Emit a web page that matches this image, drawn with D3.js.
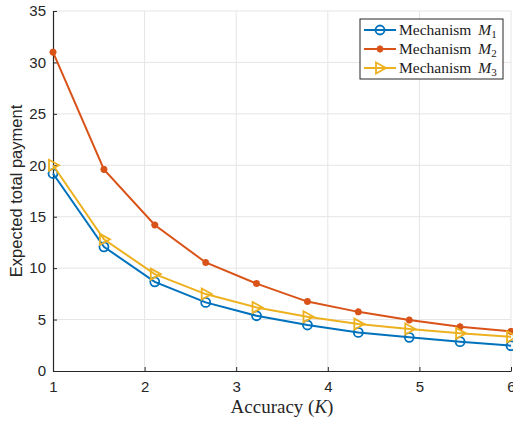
<!DOCTYPE html>
<html>
<head>
<meta charset="utf-8">
<script src="https://cdn.jsdelivr.net/npm/d3@7"></script>
<style>
  body { margin: 0; background: #fff; }
  svg { display: block; }
  .tick text { font-family: "Liberation Sans", Arial, sans-serif; font-size: 15px; fill: #262626; }
</style>
</head>
<body>
<svg id="chart" width="513" height="422"></svg>
<script>
// accuracy values on the x axis
var accuracy = [1, 1.556, 2.111, 2.667, 3.222, 3.778, 4.333, 4.889, 5.444, 6];
// expected total payment for each mechanism
var mech1 = [19.2, 12.07, 8.67, 6.67, 5.37, 4.47, 3.75, 3.27, 2.85, 2.46];
var mech2 = [31.0, 19.6, 14.2, 10.55, 8.5, 6.75, 5.75, 4.95, 4.3, 3.85];
var mech3 = [20.0, 12.8, 9.42, 7.48, 6.18, 5.27, 4.56, 4.08, 3.66, 3.33];
var xTicks = [1, 2, 3, 4, 5, 6];
var yTicks = [0, 5, 10, 15, 20, 25, 30, 35];

var series = [
    {name: "1", values: mech1, color: "#0072BD", marker: "circle"},
    {name: "2", values: mech2, color: "#D95319", marker: "star"},
    {name: "3", values: mech3, color: "#EDB120", marker: "triangle"}
];

var svg = d3.select("#chart"),
    margin = {top: 11, right: 2, bottom: 51, left: 53},
    width = +svg.attr("width") - margin.left - margin.right,
    height = +svg.attr("height") - margin.top - margin.bottom,
    g = svg.append("g").attr("transform", "translate(" + margin.left + "," + margin.top + ")");

var x = d3.scaleLinear().domain([1, 6]).range([0, width]);
var y = d3.scaleLinear().domain([0, 35]).range([height, 0]);

// grid
g.append("g").selectAll("line").data(xTicks.slice(1)).enter().append("line")
    .attr("x1", function(d) { return x(d); }).attr("x2", function(d) { return x(d); })
    .attr("y1", 0).attr("y2", height)
    .attr("stroke", "#e5e5e5").attr("stroke-width", 1);
g.append("g").selectAll("line").data(yTicks.slice(1)).enter().append("line")
    .attr("y1", function(d) { return y(d); }).attr("y2", function(d) { return y(d); })
    .attr("x1", 0).attr("x2", width)
    .attr("stroke", "#e5e5e5").attr("stroke-width", 1);

// axes with inward ticks
var xAxis = g.append("g")
    .attr("transform", "translate(0," + height + ")")
    .call(d3.axisBottom(x).tickValues(xTicks).tickFormat(d3.format("d")).tickSizeInner(-4).tickSizeOuter(0).tickPadding(10));
var yAxis = g.append("g")
    .call(d3.axisLeft(y).tickValues(yTicks).tickFormat(d3.format("d")).tickSizeInner(-4).tickSizeOuter(0).tickPadding(7));
[xAxis, yAxis].forEach(function(a) {
    a.select(".domain").attr("stroke", "#262626").attr("stroke-width", 1.2);
    a.selectAll(".tick line").attr("stroke", "#262626");
});

var line = d3.line()
    .x(function(d, i) { return x(accuracy[i]); })
    .y(function(d) { return y(d); });

function drawMarker(sel, type, color) {
    if (type == "circle") {
        sel.append("circle").attr("r", 4.5)
            .attr("fill", "none").attr("stroke", color).attr("stroke-width", 1.8);
    } else if (type == "star") {
        sel.append("path").attr("d", "M-3.5,0H3.5M0,-3.5V3.5M-2.5,-2.5L2.5,2.5M-2.5,2.5L2.5,-2.5")
            .attr("fill", "none").attr("stroke", color).attr("stroke-width", 2.2);
    } else {
        sel.append("path").attr("d", "M-4,-5.5L6,0L-4,5.5Z")
            .attr("fill", "none").attr("stroke", color).attr("stroke-width", 1.8);
    }
}

series.forEach(function(s) {
    g.append("path").datum(s.values)
        .attr("d", line)
        .attr("fill", "none")
        .attr("stroke", s.color)
        .attr("stroke-width", 2);
    s.values.forEach(function(v, i) {
        var m = g.append("g").attr("transform", "translate(" + x(accuracy[i]) + "," + y(v) + ")");
        drawMarker(m, s.marker, s.color);
    });
});

// axis titles
svg.append("text")
    .attr("x", margin.left + width / 2).attr("y", 413)
    .attr("text-anchor", "middle")
    .attr("font-family", "'Liberation Serif', 'DejaVu Serif', serif")
    .attr("font-size", 19).attr("fill", "#262626")
    .html("Accuracy (<tspan font-style='italic'>K</tspan>)");

svg.append("text")
    .attr("transform", "translate(22," + (margin.top + height / 2) + ") rotate(-90)")
    .attr("text-anchor", "middle")
    .attr("font-family", "'Liberation Sans', Arial, sans-serif")
    .attr("font-size", 16.5).attr("fill", "#262626")
    .text("Expected total payment");

// legend
var legend = svg.append("g").attr("transform", "translate(360,19)");
legend.append("rect")
    .attr("width", 143).attr("height", 60)
    .attr("fill", "#fff").attr("stroke", "#262626").attr("stroke-width", 1);
series.forEach(function(s, i) {
    var row = legend.append("g").attr("transform", "translate(0," + (11 + i * 19) + ")");
    row.append("line").attr("x1", 4).attr("x2", 36).attr("y1", 0).attr("y2", 0)
        .attr("stroke", s.color).attr("stroke-width", 2);
    var m = row.append("g").attr("transform", "translate(20,0)");
    drawMarker(m, s.marker, s.color);
    row.append("text").attr("x", 39).attr("y", 5)
        .attr("font-family", "'Liberation Serif', 'DejaVu Serif', serif")
        .attr("font-size", 15.5).attr("fill", "#1a1a1a")
        .html("Mechanism <tspan font-style='italic' dx='3'>M</tspan><tspan font-size='11' dy='3'>" + s.name + "</tspan>");
});
</script>
</body>
</html>
